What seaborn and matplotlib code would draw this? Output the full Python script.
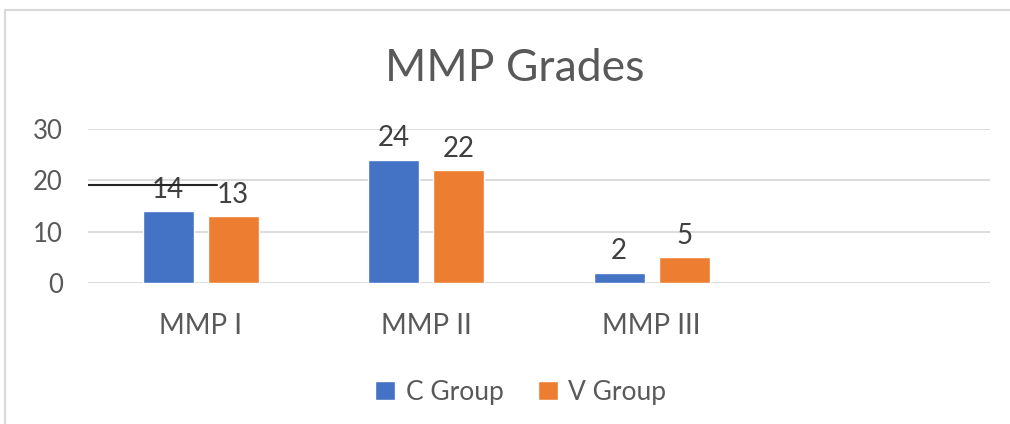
import pandas as pd
import matplotlib.pyplot as plt
import seaborn as sns
from matplotlib.patches import Rectangle

# --- dados ---
categorias = ['MMP I', 'MMP II', 'MMP III']
grupos = ['C Group', 'V Group']
c_group = [14, 24, 2]
v_group = [13, 22, 5]
linha_solta = 19  # stray line in the original picture

df = pd.DataFrame({
    'Categoria': categorias * 2,
    'Grupo': [grupos[0]] * 3 + [grupos[1]] * 3,
    'Nota': c_group + v_group,
})

cor_texto = '#595959'
cores = {'C Group': '#4472C4', 'V Group': '#ED7D31'}

sns.set_theme(style='white')
plt.rcParams['font.family'] = ['Lato', 'DejaVu Sans']

fig = plt.figure(figsize=(10.1, 4.24), dpi=100)
ax = fig.add_axes([0.087, 0.333, 0.893, 0.363])

sns.barplot(data=df, x='Categoria', y='Nota', hue='Grupo', order=categorias,
            palette=cores, width=0.576, gap=0.215, saturation=1, ax=ax)

# empty fourth slot like the original
ax.set_xlim(-0.5, 3.5)
ax.set_ylim(0, 30)
ax.set_yticks([0, 10, 20, 30])
ax.yaxis.grid(True, color='#D9D9D9', lw=1.3)
ax.set_axisbelow(True)
for s in ax.spines.values():
    s.set_visible(False)
ax.tick_params(axis='y', length=0, pad=18, labelsize=18.5, labelcolor=cor_texto)
ax.tick_params(axis='x', length=0, pad=22, labelsize=20, labelcolor=cor_texto)
ax.set_xlabel('')
ax.set_ylabel('')

for cont in ax.containers:
    ax.bar_label(cont, fmt='%d', padding=6, fontsize=20, color='#404040')

ax.axhline(linha_solta, xmin=0, xmax=0.143, color='#262626', lw=1.5, zorder=5)

fig.text(0.51, 0.838, 'MMP Grades', fontsize=32, color=cor_texto, ha='center', va='center')

ax.legend(loc='center', bbox_to_anchor=(0.48, -0.71), ncol=2, frameon=False,
          fontsize=19, labelcolor=cor_texto, handlelength=0.75, handleheight=0.75,
          columnspacing=1.3, handletextpad=0.4)

fig.patches.append(Rectangle((0.005, -0.05), 1.2, 1.026, transform=fig.transFigure,
                             fill=False, edgecolor='#D9D9D9', lw=1.5))

fig.savefig('out.png', dpi=100)
